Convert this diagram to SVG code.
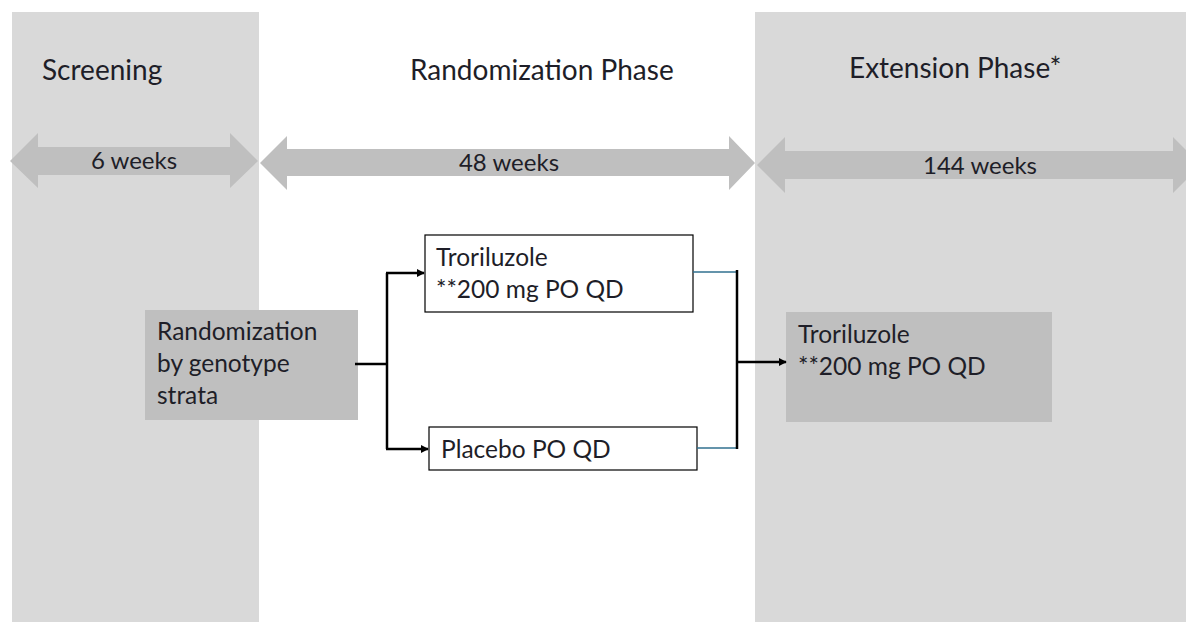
<svg xmlns="http://www.w3.org/2000/svg" width="1186" height="622" viewBox="0 0 1186 622">
  <defs>
    <style>
      .panel { fill: #d9d9d9; }
      .span { fill: #bfbfbf; }
      .txt { font-family: Lato, "Liberation Sans", sans-serif; fill: #1e1e28; }
      .head { font-size: 28px; }
      .dur { font-size: 24px; }
      .body { font-size: 24.5px; }
      .wbox { fill: #ffffff; stroke: #000000; stroke-width: 1.2; }
      .gbox { fill: #bfbfbf; }
      .conn { fill: none; stroke: #000000; stroke-width: 2.5; }
      .thin { fill: none; stroke: #31708f; stroke-width: 1.4; }
    </style>
    <marker id="arrow" viewBox="0 0 10 10" refX="9" refY="5" markerWidth="3.2" markerHeight="3.2" orient="auto" markerUnits="strokeWidth">
      <path d="M0,0 L10,5 L0,10 Z" fill="#000000"/>
    </marker>
  </defs>

  <rect width="1186" height="622" fill="#ffffff"/>

  <!-- phase panels -->
  <rect class="panel" x="12" y="12" width="247" height="610"/>
  <rect class="panel" x="755" y="12" width="431" height="610"/>

  <!-- phase headings -->
  <text class="txt head" x="42" y="80">Screening</text>
  <text class="txt head" x="410" y="80">Randomization Phase</text>
  <text class="txt head" x="849" y="78">Extension Phase*</text>

  <!-- duration spans -->
  <g id="span-screening">
    <polygon class="span" points="10,161 38,133 38,147 230,147 230,133 258,161 230,188 230,175 38,175 38,188"/>
    <text class="txt dur" x="134" y="169" text-anchor="middle">6 weeks</text>
  </g>
  <g id="span-randomization">
    <polygon class="span" points="260,163 287,136 287,149 729,149 729,136 755,163 729,190 729,176 287,176 287,190"/>
    <text class="txt dur" x="509" y="171" text-anchor="middle">48 weeks</text>
  </g>
  <g id="span-extension">
    <polygon class="span" points="757,165 785,137 785,151 1173,151 1173,137 1201,165 1173,193 1173,179 785,179 785,193"/>
    <text class="txt dur" x="980" y="174" text-anchor="middle">144 weeks</text>
  </g>

  <!-- nodes -->
  <g id="node-randomization">
    <rect class="gbox" x="145" y="310" width="213" height="110"/>
    <text class="txt body" x="157" y="340">Randomization</text>
    <text class="txt body" x="157" y="372">by genotype</text>
    <text class="txt body" x="157" y="404">strata</text>
  </g>
  <g id="node-troriluzole">
    <rect class="wbox" x="425" y="235" width="268" height="77"/>
    <text class="txt body" x="436" y="266">Troriluzole</text>
    <text class="txt body" x="436" y="298">**200 mg PO QD</text>
  </g>
  <g id="node-placebo">
    <rect class="wbox" x="429" y="427" width="268" height="43"/>
    <text class="txt body" x="441" y="458">Placebo PO QD</text>
  </g>
  <g id="node-extension">
    <rect class="gbox" x="786" y="312" width="266" height="110"/>
    <text class="txt body" x="798" y="343">Troriluzole</text>
    <text class="txt body" x="798" y="375">**200 mg PO QD</text>
  </g>

  <!-- connectors -->
  <g id="connectors">
    <path class="conn" d="M355,364 H387"/>
    <path class="conn" d="M387,273 V449"/>
    <path class="conn" d="M386,273 H424" marker-end="url(#arrow)"/>
    <path class="conn" d="M386,449 H428" marker-end="url(#arrow)"/>
    <path class="thin" d="M693,272 H737"/>
    <path class="thin" d="M697,448 H737"/>
    <path class="conn" d="M737,270 V449"/>
    <path class="conn" d="M737,362 H786" marker-end="url(#arrow)"/>
  </g>
</svg>
